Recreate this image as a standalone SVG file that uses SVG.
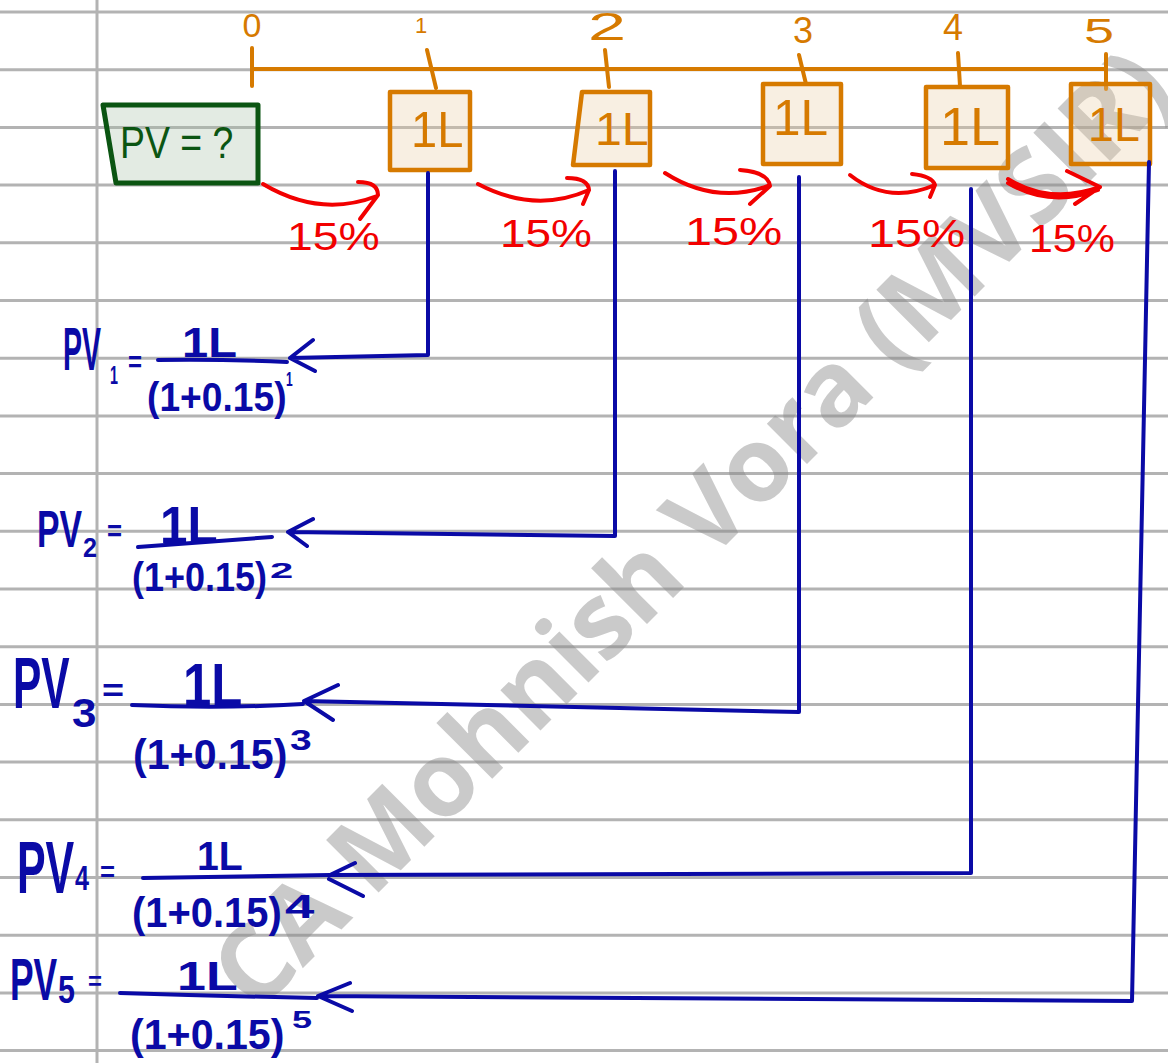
<svg xmlns="http://www.w3.org/2000/svg" width="1168" height="1063" viewBox="0 0 1168 1063">
<style>
.grid{stroke:#b3b3b3;stroke-width:3}
.wm{font-family:"Open Sans","Liberation Sans",sans-serif;font-weight:700;font-size:104px;fill:#8a8a8a;fill-opacity:.45}
.ob{fill:#e8ca9e;fill-opacity:.3;stroke:#d67a00;stroke-width:4.5;stroke-linejoin:round}
.gb{fill:#a2bca2;fill-opacity:.3;stroke:#0b5512;stroke-width:5;stroke-linejoin:round}
.ot{font-family:"Liberation Sans",sans-serif;fill:#d67a00}
.gt{font-family:"Liberation Sans",sans-serif;fill:#0b5512}
.tl{stroke:#d67a00;stroke-width:4;stroke-linecap:round;fill:none}
.red{stroke:#f20000;stroke-width:4;fill:none;stroke-linecap:round;stroke-linejoin:round}
.rt{font-family:"Liberation Sans",sans-serif;fill:#f20000;font-size:38px}
.blue{stroke:#0a0aa6;stroke-width:4;fill:none;stroke-linecap:round;stroke-linejoin:round}
.bt{font-family:"Liberation Sans",sans-serif;fill:#0a0aa6;font-weight:700}
</style>
<rect width="1168" height="1063" fill="#ffffff"/>
<g id="paper">
<line class="grid" x1="0" y1="12" x2="1168" y2="12"/>
<line class="grid" x1="0" y1="69.7" x2="1168" y2="69.7"/>
<line class="grid" x1="0" y1="127.4" x2="1168" y2="127.4"/>
<line class="grid" x1="0" y1="185.1" x2="1168" y2="185.1"/>
<line class="grid" x1="0" y1="242.8" x2="1168" y2="242.8"/>
<line class="grid" x1="0" y1="300.5" x2="1168" y2="300.5"/>
<line class="grid" x1="0" y1="358.2" x2="1168" y2="358.2"/>
<line class="grid" x1="0" y1="415.9" x2="1168" y2="415.9"/>
<line class="grid" x1="0" y1="473.6" x2="1168" y2="473.6"/>
<line class="grid" x1="0" y1="531.3" x2="1168" y2="531.3"/>
<line class="grid" x1="0" y1="589" x2="1168" y2="589"/>
<line class="grid" x1="0" y1="646.7" x2="1168" y2="646.7"/>
<line class="grid" x1="0" y1="704.4" x2="1168" y2="704.4"/>
<line class="grid" x1="0" y1="762.1" x2="1168" y2="762.1"/>
<line class="grid" x1="0" y1="819.8" x2="1168" y2="819.8"/>
<line class="grid" x1="0" y1="877.5" x2="1168" y2="877.5"/>
<line class="grid" x1="0" y1="935.2" x2="1168" y2="935.2"/>
<line class="grid" x1="0" y1="992.9" x2="1168" y2="992.9"/>
<line class="grid" x1="0" y1="1050.6" x2="1168" y2="1050.6"/>
<line class="grid" x1="97" y1="0" x2="97" y2="1063"/>
</g>
<text class="wm" transform="translate(256,1015) rotate(-45)" textLength="1302" lengthAdjust="spacing">CA Mohnish Vora (MVSIR)</text>
<g id="timeline">
<path class="tl" d="M252,69 H1106 M252,48 V86 M427,50 L436,88 M605,50 L609,87 M799,55 L806,84 M958,53 L960,86 M1106,54 V89"/>
<text class="ot" x="252" y="37" font-size="34" text-anchor="middle">0</text>
<text class="ot" x="421" y="33" font-size="22" text-anchor="middle">1</text>
<text class="ot" transform="translate(607,40) scale(1.8,1)" font-size="38" text-anchor="middle">2</text>
<text class="ot" x="803" y="43" font-size="36" text-anchor="middle">3</text>
<text class="ot" x="953" y="40" font-size="36" text-anchor="middle">4</text>
<text class="ot" transform="translate(1099,43) scale(1.5,1)" font-size="36" text-anchor="middle">5</text>
</g>
<g id="pv0">
<polygon class="gb" points="103,105 258,105 258,183 116,183"/>
<text class="gt" transform="translate(120,158) scale(0.85,1)" font-size="44">PV = ?</text>
</g>
<g id="cf1">
<rect class="ob" x="390" y="92" width="80" height="78"/>
<text class="ot" transform="translate(411,147) scale(0.94,1)" font-size="50">1L</text>
</g>
<g id="cf2">
<polygon class="ob" points="582,92 650,92 650,165 573,165"/>
<text class="ot" transform="translate(595,145) scale(1.05,1)" font-size="46">1L</text>
</g>
<g id="cf3">
<rect class="ob" x="763" y="84" width="78" height="80"/>
<text class="ot" transform="translate(773,135) scale(0.99,1)" font-size="50">1L</text>
</g>
<g id="cf4">
<rect class="ob" x="926" y="87" width="82" height="81"/>
<text class="ot" transform="translate(940,145) scale(1,1)" font-size="54">1L</text>
</g>
<g id="cf5">
<rect class="ob" x="1071" y="84" width="79" height="80"/>
<text class="ot" transform="translate(1088,141) scale(0.97,1)" font-size="48">1L</text>
</g>
<g id="connectors">
<path class="red" d="M263,184 Q320,218 377,196 M358,182 Q378,182 378,195 L360,219"/>
<path class="red" d="M478,184 Q535,214 589,190 M567,178 Q588,178 589,190 L583,204"/>
<path class="red" d="M665,173 Q715,205 768,186 M740,170 Q768,172 770,186 L750,204"/>
<path class="red" d="M850,175 Q888,205 935,185 M912,174 Q932,176 935,185 L930,197"/>
<path class="red" d="M1008,179 Q1050,205 1100,187 M1008,183 Q1050,208 1098,190 M1067,171 L1100,187 L1075,204" stroke-width="4.5"/>
<text class="rt" transform="translate(287,250) scale(1.22,1)">15%</text>
<text class="rt" transform="translate(500,247) scale(1.21,1)">15%</text>
<text class="rt" transform="translate(685,245) scale(1.28,1)">15%</text>
<text class="rt" transform="translate(868,247) scale(1.28,1)">15%</text>
<text class="rt" transform="translate(1029,252) scale(1.13,1)">15%</text>
<path class="blue" d="M428,173 V355 L290,358 M313,340 L290,358 L315,371"/>
<path class="blue" d="M615,171 V536 L288,532 M313,519 L288,532 L307,546"/>
<path class="blue" d="M799,177 V712 L304,701 M338,685 L304,701 L333,720"/>
<path class="blue" d="M971,189 V873 L330,875 M355,863 L330,875 M329,879 L363,896"/>
<path class="blue" d="M1149,162 L1132,1001 L318,996 M350,983 L318,996 L352,1011"/>
</g>
<g id="pv1">
<text class="bt" transform="translate(63,370) scale(0.46,1)" font-size="62">PV</text>
<text class="bt" transform="translate(110,384) scale(0.55,1)" font-size="26">1</text>
<text class="bt" transform="translate(128,372) scale(0.8,1)" font-size="30">=</text>
<path class="blue" d="M158,360 Q220,359 287,362"/>
<text class="bt" transform="translate(182,357) scale(1.12,1)" font-size="42">1L</text>
<text class="bt" transform="translate(147,411) scale(0.93,1)" font-size="40">(1+0.15)</text>
<text class="bt" transform="translate(286,386) scale(0.6,1)" font-size="20">1</text>
</g>
<g id="pv2">
<text class="bt" transform="translate(37,547) scale(0.65,1)" font-size="52">PV</text>
<text class="bt" transform="translate(83,557) scale(0.9,1)" font-size="28">2</text>
<text class="bt" transform="translate(107,541) scale(0.86,1)" font-size="30">=</text>
<path class="blue" d="M138,547 L272,537"/>
<text class="bt" transform="translate(160,543) scale(0.95,1)" font-size="52">1L</text>
<text class="bt" transform="translate(132,591) scale(0.9,1)" font-size="40">(1+0.15)</text>
<text class="bt" transform="translate(270,578) scale(1.9,1)" font-size="22">2</text>
</g>
<g id="pv3">
<text class="bt" transform="translate(13,708) scale(0.59,1)" font-size="72">PV</text>
<text class="bt" transform="translate(72,727) scale(1.1,1)" font-size="40">3</text>
<text class="bt" transform="translate(102,701) scale(1.18,1)" font-size="32">=</text>
<path class="blue" d="M132,705 Q220,709 303,704"/>
<text class="bt" transform="translate(183,706) scale(0.82,1)" font-size="62">1L</text>
<text class="bt" transform="translate(133,769) scale(0.98,1)" font-size="42">(1+0.15)</text>
<text class="bt" transform="translate(290,750) scale(1.3,1)" font-size="30">3</text>
</g>
<g id="pv4">
<text class="bt" transform="translate(17,893) scale(0.58,1)" font-size="74">PV</text>
<text class="bt" transform="translate(75,890) scale(0.7,1)" font-size="36">4</text>
<text class="bt" transform="translate(100,881) scale(0.92,1)" font-size="28">=</text>
<path class="blue" d="M143,878 L330,875"/>
<text class="bt" transform="translate(197,870) scale(0.98,1)" font-size="40">1L</text>
<text class="bt" transform="translate(132,927) scale(0.95,1)" font-size="42">(1+0.15)</text>
<text class="bt" transform="translate(285,918) scale(1.55,1)" font-size="34">4</text>
</g>
<g id="pv5">
<text class="bt" transform="translate(10,1000) scale(0.59,1)" font-size="60">PV</text>
<text class="bt" transform="translate(58,1003) scale(0.8,1)" font-size="38">5</text>
<text class="bt" transform="translate(88,990) scale(0.92,1)" font-size="26">=</text>
<path class="blue" d="M120,993 Q220,996 317,998"/>
<text class="bt" transform="translate(177,990) scale(1.3,1)" font-size="40">1L</text>
<text class="bt" transform="translate(130,1049) scale(0.98,1)" font-size="42">(1+0.15)</text>
<text class="bt" transform="translate(292,1028) scale(1.5,1)" font-size="24">5</text>
</g>
</svg>
